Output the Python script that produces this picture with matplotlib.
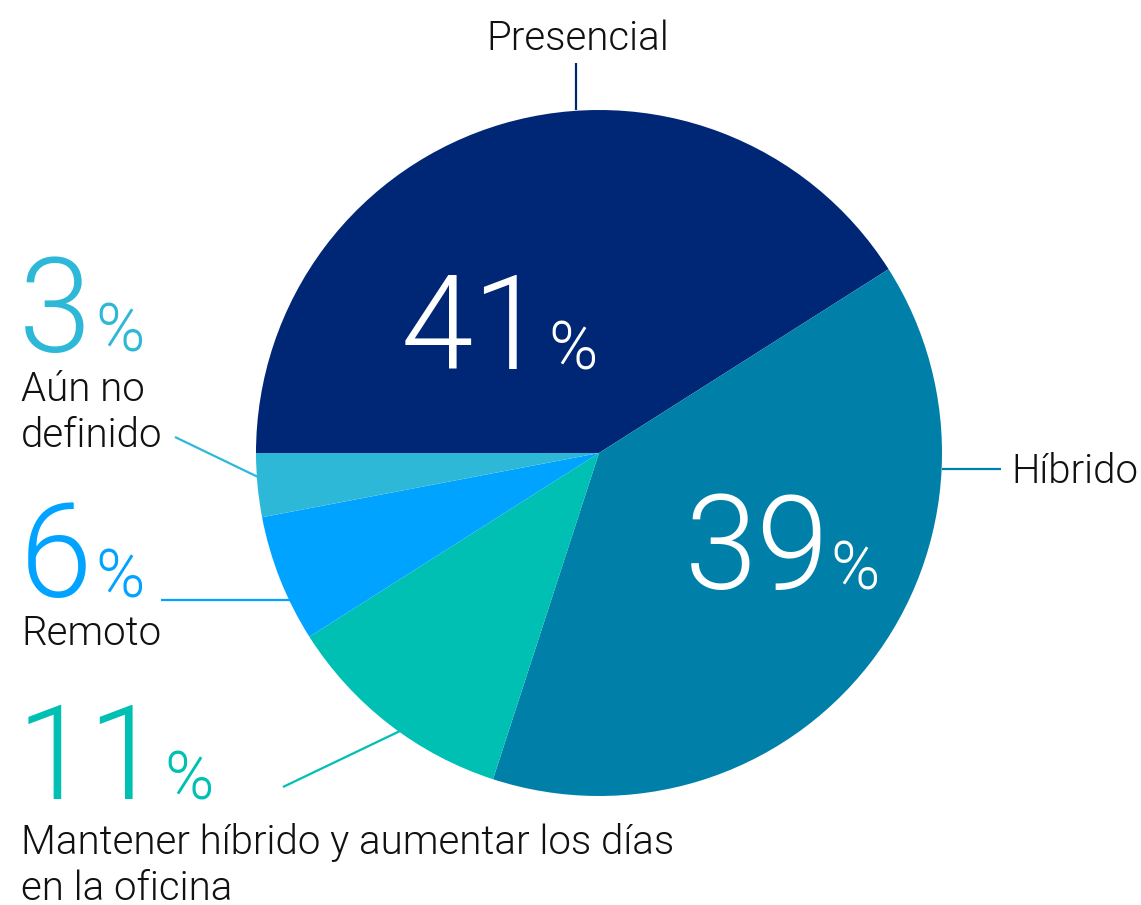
import matplotlib
matplotlib.use("Agg")
import matplotlib.pyplot as plt

# datos del gráfico
categorias = ["Presencial", "Híbrido", "Mantener híbrido y aumentar los días\nen la oficina",
              "Remoto", "Aún no\ndefinido"]
valores = [41, 39, 11, 6, 3]
colores = ["#002776", "#0080A8", "#00BFB3", "#00A3FF", "#2EB8D8"]

W, H = 1141, 905
plt.rcParams["font.family"] = ["Roboto", "DejaVu Sans"]

fig = plt.figure(figsize=(W / 100, H / 100), dpi=100)
ax = fig.add_axes([0, 0, 1, 1])

def Y(y):
    # coordenadas en pixeles desde arriba
    return H - y

ax.pie(valores, colors=colores, startangle=180, counterclock=False,
       center=(599, Y(453)), radius=343,
       wedgeprops=dict(linewidth=0, antialiased=True), frame=True)
ax.set_xlim(0, W)
ax.set_ylim(0, H)
ax.axis("off")

big = 94
small = 48
lab = 29
peso = 300

# porcentajes: (valor, x numero, baseline, x %, color)
pos_pct = [
    (valores[0], 401, 369, 548, "white"),
    (valores[1], 685, 589, 830, "white"),
    (valores[2], 17, 799, 164, colores[2]),
    (valores[3], 20, 597, 95, colores[3]),
    (valores[4], 19, 352, 95, colores[4]),
]
for v, xn, yb, xp, c in pos_pct:
    ax.text(xn, Y(yb), str(v), fontsize=big, color=c, fontweight=peso,
            ha="left", va="baseline")
    ax.text(xp, Y(yb), "%", fontsize=small, color=c, fontweight=peso,
            ha="left", va="baseline")

# etiquetas (baseline de la ultima linea)
etiquetas_pos = [
    (578, 50, "center"),
    (1011, 483, "left"),
    (21, 900, "left"),
    (21, 645, "left"),
    (21, 447, "left"),
]
for txt, (x, yb, ha) in zip(categorias, etiquetas_pos):
    ax.text(x, Y(yb), txt, fontsize=lab, fontweight=peso, ha=ha,
            va="baseline", color="#111111", linespacing=1.25)

# lineas guia
guias = [
    ((576, 63), (576, 110), colores[0]),
    ((942, 469), (1001, 469), colores[1]),
    ((283, 787), (400, 731), colores[2]),
    ((161, 600), (290, 600), colores[3]),
    ((175, 437), (258, 477), colores[4]),
]
for (x0, y0), (x1, y1), c in guias:
    ax.plot([x0, x1], [Y(y0), Y(y1)], color=c, linewidth=1.6, solid_capstyle="butt")

fig.savefig("out.png", dpi=100)
